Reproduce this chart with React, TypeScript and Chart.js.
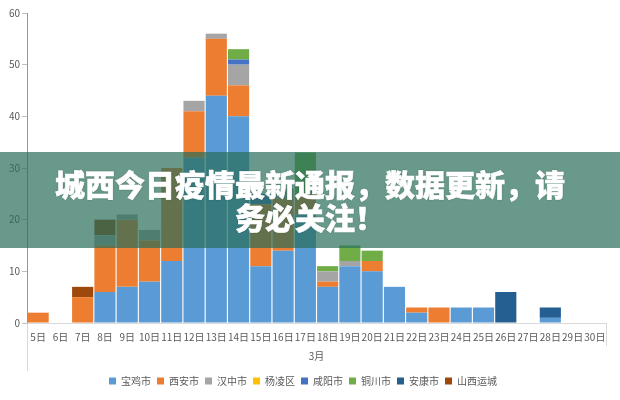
import React, { useEffect, useRef } from "react";
import { Chart, registerables } from "chart.js";

Chart.register(...registerables);

const categories = ["5日","6日","7日","8日","9日","10日","11日","12日","13日","14日","15日","16日","17日","18日","19日","20日","21日","22日","23日","24日","25日","26日","27日","28日","29日","30日"];
const monthLabel = "3月";
const yTicks = [0, 10, 20, 30, 40, 50, 60];

const baoji =    [0,0,0,6,7,8,12,32,44,40,11,14,21,7,11,10,7,2,0,3,3,0,0,1,0,0];
const xian =     [2,0,5,9,13,8,18,9,11,6,12,10,4,1,0,2,0,1,3,0,0,0,0,0,0,0];
const hanzhong = [0,0,0,2,1,2,0,2,1,4,0,2,0,2,1,0,0,0,0,0,0,0,0,0,0,0];
const yangling = [0,0,0,0,0,0,0,0,0,0,0,0,0,0,0,0,0,0,0,0,0,0,0,0,0,0];
const xianyang = [0,0,0,0,0,0,0,0,0,1,2,0,0,0,0,0,0,0,0,0,0,0,0,0,0,0];
const tongchuan =[0,0,0,0,0,0,0,0,0,2,0,0,8,1,3,2,0,0,0,0,0,0,0,0,0,0];
const ankang =   [0,0,0,0,0,0,0,0,0,0,0,0,0,0,0,0,0,0,0,0,0,6,0,2,0,0];
const yuncheng = [0,0,2,3,0,0,0,0,0,0,0,0,0,0,0,0,0,0,0,0,0,0,0,0,0,0];

const seriesNames = ["宝鸡市","西安市","汉中市","杨凌区","咸阳市","铜川市","安康市","山西运城"];
const seriesColors = ["#5b9bd5","#ed7d31","#a5a5a5","#ffc000","#4472c4","#70ad47","#255e91","#9e480e"];
const seriesData = [baoji, xian, hanzhong, yangling, xianyang, tongchuan, ankang, yuncheng];

const titleLine1 = "城西今日疫情最新通报，数据更新，请";
const titleLine2 = "务必关注！";

export default function App() {
  const ref = useRef<HTMLCanvasElement | null>(null);

  useEffect(() => {
    document.body.style.margin = "0";
    const font = '"Noto Sans CJK SC", "Noto Sans", sans-serif';
    Chart.defaults.font.family = font;
    const boxLines = {
      id: "boxLines",
      afterDraw(chart: any) {
        const { ctx, chartArea } = chart;
        ctx.save();
        ctx.strokeStyle = "#d9d9d9";
        ctx.lineWidth = 1;
        ctx.beginPath();
        const l = Math.round(chartArea.left) + 0.5;
        const r = Math.round(chartArea.right) + 0.5;
        const b = Math.round(chartArea.bottom);
        ctx.moveTo(l, b);
        ctx.lineTo(l, b + 48);
        ctx.moveTo(r, b);
        ctx.lineTo(r, b + 23);
        ctx.stroke();
        ctx.restore();
      },
    };
    const chart = new Chart(ref.current as HTMLCanvasElement, {
      type: "bar",
      data: {
        labels: categories,
        datasets: seriesNames.map((name, i) => ({
          label: name,
          data: seriesData[i],
          backgroundColor: seriesColors[i],
          borderWidth: 0,
          barPercentage: 0.95,
          categoryPercentage: 1,
        })),
      },
      options: {
        responsive: false,
        animation: false,
        layout: { padding: { top: 13, right: 14, left: 0, bottom: 4 } },
        plugins: {
          legend: {
            position: "bottom",
            labels: {
              boxWidth: 7,
              boxHeight: 7,
              padding: 6,
              color: "#595959",
              font: { size: 10 },
            },
          },
          tooltip: { enabled: false },
        },
        scales: {
          x: {
            stacked: true,
            grid: { display: false, drawTicks: false },
            border: { color: "#d9d9d9" },
            ticks: {
              color: "#595959",
              font: { size: 10 },
              maxRotation: 0,
              autoSkip: false,
              padding: 8,
            },
            title: {
              display: true,
              text: monthLabel,
              color: "#595959",
              font: { size: 10 },
              padding: { top: 4, bottom: 8 },
            },
            afterFit(scale: any) {
              scale.height = 47;
            },
          },
          y: {
            stacked: true,
            min: 0,
            max: 60,
            afterBuildTicks(scale: any) {
              scale.ticks = yTicks.map((v) => ({ value: v }));
            },
            grid: {
              display: true,
              drawOnChartArea: false,
              drawTicks: true,
              tickLength: 5,
              color: "#bfbfbf",
            },
            border: { color: "#6aa0d4" },
            ticks: {
              color: "#595959",
              font: { size: 10 },
              padding: 2,
            },
            afterFit(scale: any) {
              scale.width = 27;
            },
          },
        },
      },
      plugins: [boxLines],
    });
    return () => chart.destroy();
  }, []);

  return (
    <div style={{ position: "relative", width: 620, height: 400, background: "#fff", overflow: "hidden" }}>
      <canvas ref={ref} width={620} height={400} style={{ display: "block" }} />
      <div
        style={{
          position: "absolute",
          left: 0,
          top: 152,
          width: 620,
          height: 96,
          background: "rgba(40,110,90,0.7)",
          display: "flex",
          flexDirection: "column",
          alignItems: "center",
          justifyContent: "center",
          color: "#fff",
          fontFamily: '"Noto Sans CJK SC", sans-serif',
          fontWeight: 900,
          fontSize: 30,
          lineHeight: "33px",
          WebkitTextStroke: "0.6px #fff",
          textShadow: "0 0 2px rgba(0,0,0,0.35)",
          textAlign: "center",
        }}
      >
        <div>{titleLine1}</div>
        <div>{titleLine2}</div>
      </div>
    </div>
  );
}
